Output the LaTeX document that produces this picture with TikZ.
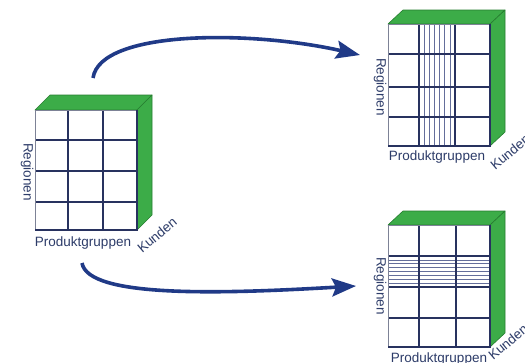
\documentclass[tikz,border=0pt]{standalone}
\usepackage{fontspec}
\setmainfont{Liberation Sans}
\usetikzlibrary{arrows.meta}
\definecolor{cgreen}{RGB}{60,172,72}
\definecolor{cgreend}{RGB}{38,125,48}
\definecolor{navy}{RGB}{40,50,95}
\definecolor{thinl}{RGB}{100,110,155}
\definecolor{framec}{RGB}{125,130,150}
\definecolor{arrowc}{RGB}{32,58,135}
\definecolor{txt}{RGB}{45,60,105}
\tikzset{
 greenface/.style={fill=cgreen, draw=cgreend, line width=0.6pt, line join=round},
 gridline/.style={draw=navy, line width=1.3pt},
 thinline/.style={draw=thinl, line width=0.7pt},
 frameline/.style={draw=framec, line width=0.9pt},
 lbl/.style={font=\fontsize{13.5}{15}\selectfont, text=txt, inner sep=0pt},
 flow/.style={draw=arrowc, line width=3.6pt, -{Stealth[length=24pt,width=18pt,inset=4pt]}}
}
\begin{document}
\begin{tikzpicture}[x=1pt,y=-1pt]
\useasboundingbox (0,0) rectangle (525,362);
\fill[white] (0,0) rectangle (525,362);

% ---------- left cube ----------
\begin{scope}[shift={(35,110)}]
 \fill[white] (0,0) rectangle (102,120);
 \path[greenface] (0,0) -- (15,-15) -- (117,-15) -- (102,0) -- cycle;
 \path[greenface] (102,0) -- (117,-15) -- (117,105) -- (102,120) -- cycle;
 \draw[gridline] (33,0) -- (33,120) (68,0) -- (68,120);
 \draw[gridline] (0,30) -- (102,30) (0,61) -- (102,61) (0,92) -- (102,92);
 \draw[frameline] (0,0) rectangle (102,120);
 \draw[gridline] (0,120) -- (102,120) -- (102,0);
\end{scope}
\node[lbl, rotate=-90] (reg1) at (27,172) {Regionen};
\node[lbl] (prod1) at (83,243) {Produktgruppen};
\node[lbl, rotate=40] (kun1) at (157,235) {Kunden};

% ---------- top right cube ----------
\begin{scope}[shift={(388,24)}]
 \fill[white] (0,0) rectangle (102,122);
 \path[greenface] (0,0) -- (15,-14) -- (117,-14) -- (102,0) -- cycle;
 \path[greenface] (102,0) -- (117,-14) -- (117,108) -- (102,122) -- cycle;
 \foreach \k in {1,...,6} {\draw[thinline] ({31+36*\k/7},0) -- ({31+36*\k/7},122);}
 \draw[gridline] (31,0) -- (31,122) (67,0) -- (67,122);
 \draw[gridline] (0,30) -- (102,30) (0,63) -- (102,63) (0,93) -- (102,93);
 \draw[frameline] (0,0) rectangle (102,122);
 \draw[gridline] (0,122) -- (102,122) -- (102,0);
\end{scope}
\node[lbl, rotate=-90] (reg2) at (380,87) {Regionen};
\node[lbl] (prod2) at (437,157) {Produktgruppen};
\node[lbl, rotate=40] (kun2) at (510,152) {Kunden};

% ---------- bottom right cube ----------
\begin{scope}[shift={(388,225)}]
 \fill[white] (0,0) rectangle (102,122);
 \path[greenface] (0,0) -- (15,-14) -- (117,-14) -- (102,0) -- cycle;
 \path[greenface] (102,0) -- (117,-14) -- (117,108) -- (102,122) -- cycle;
 \foreach \k in {1,...,7} {\draw[thinline] (0,{31+31*\k/8}) -- (102,{31+31*\k/8});}
 \draw[gridline] (31,0) -- (31,122) (68,0) -- (68,122);
 \draw[gridline] (0,31) -- (102,31) (0,62) -- (102,62) (0,93) -- (102,93);
 \draw[frameline] (0,0) rectangle (102,122);
 \draw[gridline] (0,122) -- (102,122) -- (102,0);
\end{scope}
\node[lbl, rotate=-90] (reg3) at (380,286) {Regionen};
\node[lbl] (prod3) at (439,359) {Produktgruppen};
\node[lbl, rotate=40] (kun3) at (508,342) {Kunden};

% ---------- arrows ----------
\coordinate (a1s) at (93,78);
\coordinate (a1e) at (360,55);
\coordinate (a2s) at (82,263);
\coordinate (a2e) at (356,286);
\draw[flow] (a1s) .. controls (100,30) and (250,30) .. (a1e);
\draw[flow] (a2s) .. controls (88,298) and (220,294) .. (a2e);
\end{tikzpicture}
\end{document}
